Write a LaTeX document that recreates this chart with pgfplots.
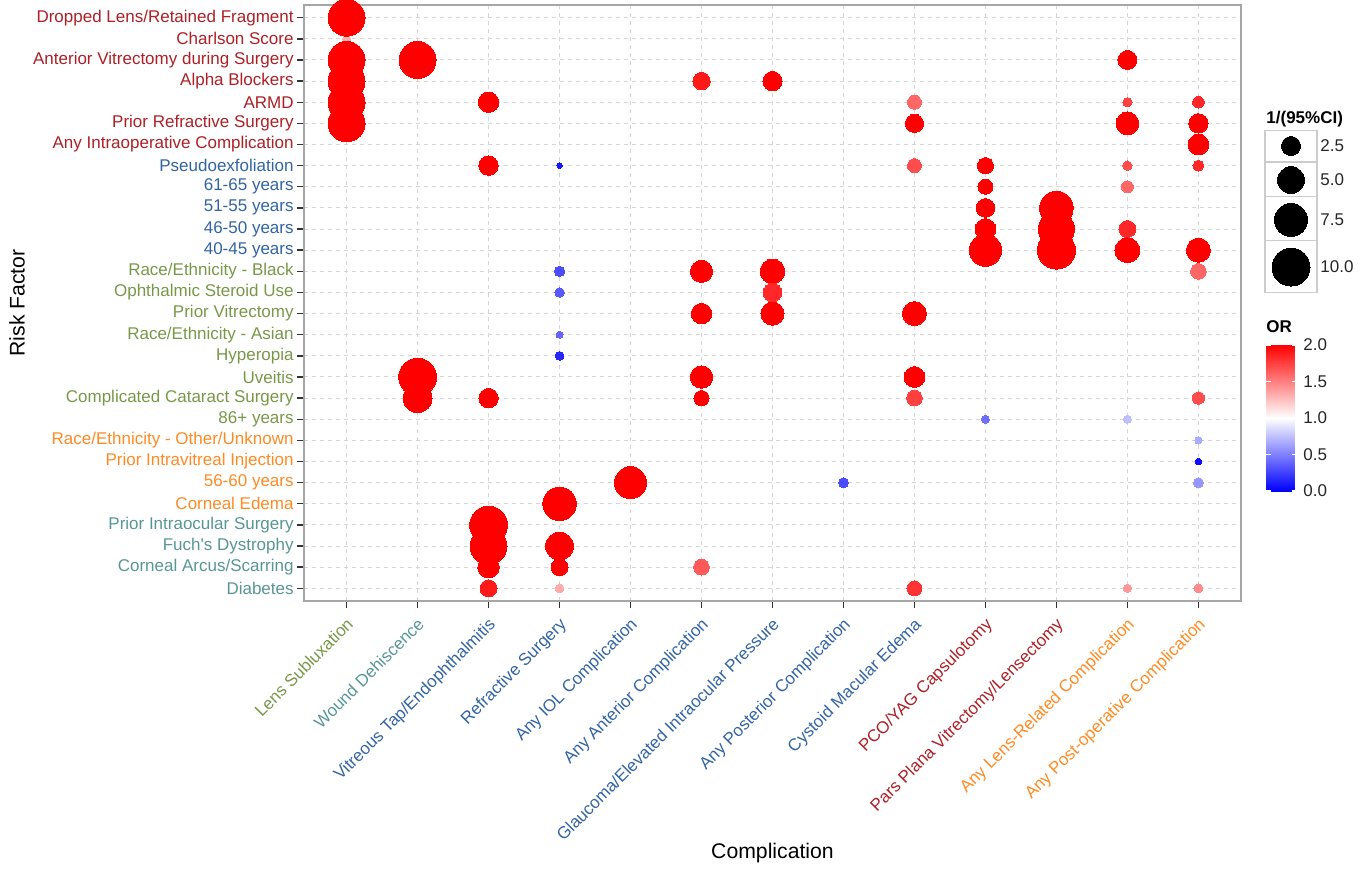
\documentclass[border=0pt]{standalone}
\usepackage{pgfplots}
\pgfplotsset{compat=1.18}
\usepackage{fontspec}
\setmainfont{Liberation Sans}
\definecolor{cred}{RGB}{172,32,38}
\definecolor{cblue}{RGB}{50,100,164}
\definecolor{cgreen}{RGB}{120,152,72}
\definecolor{corange}{RGB}{255,138,36}
\definecolor{cteal}{RGB}{88,150,150}

% x = complication (1..13), y = risk factor (1 = Diabetes ... 28 = Dropped Lens)
% s = 1/(95%CI), or = odds ratio (capped at 2)
\pgfplotstableread{
x y s or
1 27 0.45 1.30
1 28 9.5 2.0
1 26 9.5 2.0
1 25 9.5 2.0
1 24 9.5 2.0
1 23 9.5 2.0
2 26 9.5 2.0
2 11 9.9 2.0
2 10 5.8 2.0
3 24 2.9 2.0
3 21 2.6 2.0
3 10 2.6 2.0
3 4 9.9 2.0
3 3 9.5 2.0
3 2 3.2 2.0
3 1 2.0 1.9
4 21 0.20 0.10
4 16 0.75 0.30
4 15 0.63 0.35
4 13 0.34 0.40
4 12 0.53 0.15
4 5 7.8 2.0
4 3 5.4 2.0
4 2 2.0 2.0
4 1 0.53 1.33
5 6 7.1 2.0
6 25 2.1 1.9
6 16 3.4 2.0
6 14 2.9 2.0
6 11 3.5 2.0
6 10 1.6 2.0
6 2 1.7 1.65
7 25 2.6 2.0
7 16 4.2 2.0
7 15 2.4 1.85
7 14 3.7 2.0
8 6 0.69 0.30
9 24 1.36 1.60
9 23 2.3 2.0
9 21 1.36 1.70
9 14 4.0 2.0
9 11 3.0 2.0
9 10 1.7 1.75
9 1 1.56 1.80
10 21 1.8 2.0
10 20 1.56 2.0
10 19 2.4 2.0
10 18 3.0 2.0
10 17 7.2 2.0
10 9 0.44 0.43
11 19 7.8 2.0
11 18 9.0 2.0
11 17 10.0 2.0
12 26 2.5 2.0
12 24 0.6 1.75
12 23 3.6 2.0
12 21 0.6 1.70
12 20 1.0 1.60
12 18 2.0 1.85
12 17 4.3 2.0
12 9 0.44 0.75
12 1 0.48 1.40
13 24 0.95 1.85
13 23 2.6 2.0
13 22 3.0 2.0
13 21 0.84 1.85
13 17 4.0 2.0
13 16 1.7 1.60
13 10 1.05 1.70
13 8 0.37 0.67
13 7 0.31 0.05
13 6 0.70 0.59
13 1 0.56 1.45
}\bubbles

% size legend keys (placed right of the panel, in axis units)
\pgfplotstableread{
x y s
14.305 21.93 2.5
14.305 20.32 5.0
14.305 18.43 7.5
14.305 16.20 10.0
}\sizekeys

\begin{document}
\begin{tikzpicture}
\begin{axis}[
  at={(152pt,134pt)}, anchor=south west,
  scale only axis, width=468.5pt, height=298pt,
  xmin=0.4, xmax=13.6, ymin=0.4, ymax=28.6,
  clip=false,
  xtick={1,...,13}, ytick={1,...,28},
  xticklabels={
    \textcolor{cgreen}{Lens Subluxation},
    \textcolor{cteal}{Wound Dehiscence},
    \textcolor{cblue}{Vitreous Tap/Endophthalmitis},
    \textcolor{cblue}{Refractive Surgery},
    \textcolor{cblue}{Any IOL Complication},
    \textcolor{cblue}{Any Anterior Complication},
    \textcolor{cblue}{Glaucoma/Elevated Intraocular Pressure},
    \textcolor{cblue}{Any Posterior Complication},
    \textcolor{cblue}{Cystoid Macular Edema},
    \textcolor{cred}{PCO/YAG Capsulotomy},
    \textcolor{cred}{Pars Plana Vitrectomy/Lensectomy},
    \textcolor{corange}{Any Lens-Related Complication},
    \textcolor{corange}{Any Post-operative Complication}},
  yticklabels={
    \textcolor{cteal}{Diabetes},
    \textcolor{cteal}{Corneal Arcus/Scarring},
    \textcolor{cteal}{Fuch\textquotesingle s Dystrophy},
    \textcolor{cteal}{Prior Intraocular Surgery},
    \textcolor{corange}{Corneal Edema},
    \textcolor{corange}{56-60 years},
    \textcolor{corange}{Prior Intravitreal Injection},
    \textcolor{corange}{Race/Ethnicity - Other/Unknown},
    \textcolor{cgreen}{86+ years},
    \textcolor{cgreen}{Complicated Cataract Surgery},
    \textcolor{cgreen}{Uveitis},
    \textcolor{cgreen}{Hyperopia},
    \textcolor{cgreen}{Race/Ethnicity - Asian},
    \textcolor{cgreen}{Prior Vitrectomy},
    \textcolor{cgreen}{Ophthalmic Steroid Use},
    \textcolor{cgreen}{Race/Ethnicity - Black},
    \textcolor{cblue}{40-45 years},
    \textcolor{cblue}{46-50 years},
    \textcolor{cblue}{51-55 years},
    \textcolor{cblue}{61-65 years},
    \textcolor{cblue}{Pseudoexfoliation},
    \textcolor{cred}{Any Intraoperative Complication},
    \textcolor{cred}{Prior Refractive Surgery},
    \textcolor{cred}{ARMD},
    \textcolor{cred}{Alpha Blockers},
    \textcolor{cred}{Anterior Vitrectomy during Surgery},
    \textcolor{cred}{Charlson Score},
    \textcolor{cred}{Dropped Lens/Retained Fragment}},
  tick pos=left, tick align=outside, major tick length=3.5pt,
  tick style={black!80, line width=0.7pt},
  grid=major,
  major grid style={black!16, dash pattern=on 2pt off 2pt, line width=0.5pt},
  axis line style={black!35, line width=0.7pt},
  ticklabel style={font=\fontsize{8.5}{10}\selectfont},
  yticklabel style={inner sep=1.5pt},
  xticklabel style={rotate=45, anchor=north east, inner sep=0pt, xshift=-3.3pt, yshift=-2.5pt},
  xlabel={Complication}, ylabel={Risk Factor},
  label style={font=\fontsize{10.6}{12}\selectfont},
  xlabel style={at={(axis description cs:0.5,-0.4228)}, anchor=center},
  ylabel style={at={(axis description cs:-0.3063,0.5)}, anchor=center},
  colormap={orcm}{rgb255=(0,0,255) rgb255=(255,255,255) rgb255=(255,0,0)},
  point meta min=0, point meta max=2,
  colorbar,
  colorbar style={
    at={(parent axis.north east)}, anchor=north west,
    xshift=4pt, yshift=-170pt,
    scale only axis, width=15.5pt, height=73pt,
    ytick={0,0.5,1,1.5,2},
    yticklabel pos=right, ytick pos=both,
    tick align=inside, major tick length=2.5pt,
    tick style={white, line width=0.6pt},
    axis line style={draw=none},
    yticklabel style={font=\fontsize{8.5}{10}\selectfont, color=black!85, inner sep=1pt, xshift=2pt,
      /pgf/number format/.cd, fixed, fixed zerofill, precision=1, assume math mode=true},
  },
]
\addplot[scatter, only marks, mark=*, line width=0pt,
  point meta=explicit,
  scatter/use mapped color={draw=mapped color, fill=mapped color},
  visualization depends on={3*sqrt(\thisrow{s}) \as \msz},
  scatter/@pre marker code/.append style={/tikz/mark size=\msz}]
  table[x=x, y=y, meta=or] {\bubbles};
\addplot[scatter, only marks, mark=*, line width=0pt,
  point meta=explicit,
  scatter/use mapped color={draw=black, fill=black},
  visualization depends on={3*sqrt(\thisrow{s}) \as \msz},
  scatter/@pre marker code/.append style={/tikz/mark size=\msz}]
  table[x=x, y=y, meta=s] {\sizekeys};
\end{axis}
% size legend frame and text
\draw[black!20, line width=0.6pt] (632.5pt,288.3pt) rectangle (658.5pt,314.2pt);
\draw[black!20, line width=0.6pt] (632.5pt,314.2pt) rectangle (658.5pt,336.2pt);
\draw[black!20, line width=0.6pt] (632.5pt,336.2pt) rectangle (658.5pt,353.5pt);
\draw[black!20, line width=0.6pt] (632.5pt,353.5pt) rectangle (658.5pt,369.2pt);
\node[anchor=west, inner sep=0pt, font=\fontsize{8.5}{10}\selectfont\bfseries] at (633pt,375pt) {1/(95\%CI)};
\node[anchor=west, inner sep=0pt, font=\fontsize{8.5}{10}\selectfont, text=black!85] at (660pt,361.5pt) {2.5};
\node[anchor=west, inner sep=0pt, font=\fontsize{8.5}{10}\selectfont, text=black!85] at (660pt,344.5pt) {5.0};
\node[anchor=west, inner sep=0pt, font=\fontsize{8.5}{10}\selectfont, text=black!85] at (660pt,324.5pt) {7.5};
\node[anchor=west, inner sep=0pt, font=\fontsize{8.5}{10}\selectfont, text=black!85] at (660pt,301pt) {10.0};
\node[anchor=west, inner sep=0pt, font=\fontsize{8.5}{10}\selectfont\bfseries] at (633pt,271.3pt) {OR};
\pgfresetboundingbox
\path[use as bounding box] (0,0) rectangle (683pt,434.5pt);
\end{tikzpicture}
\end{document}
